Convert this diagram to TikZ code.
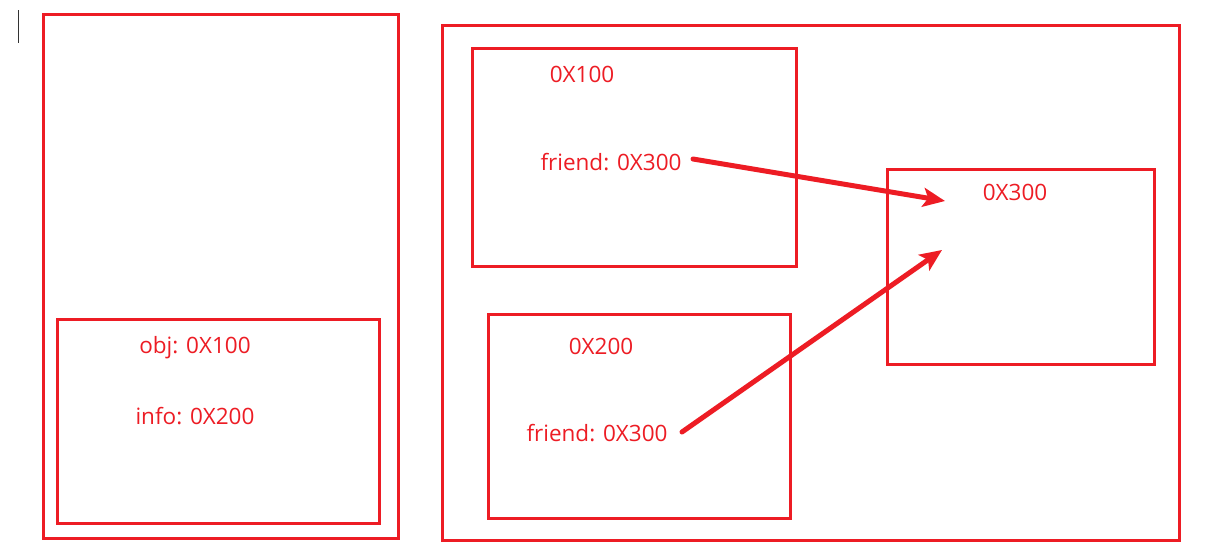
\documentclass[tikz,border=0pt]{standalone}
\usepackage{fontspec}
\setmainfont{Open Sans}
\usetikzlibrary{arrows.meta}
\definecolor{mred}{HTML}{ED1C24}
\begin{document}
\begin{tikzpicture}[x=1pt,y=-1pt,
  box/.style={draw=mred, line width=3pt, inner sep=0pt, minimum width=#1},
  lbl/.style={text=mred, font=\fontsize{22.5}{26}\selectfont, inner sep=0pt},
  ptr/.style={draw=mred, line width=5pt, line cap=round, -{Stealth[length=22pt,width=19pt,inset=5pt]}}
]
\useasboundingbox (0,0) rectangle (1216,554);
\fill[white] (0,0) rectangle (1216,554);
% cursor mark
\draw[black!80, line width=1pt] (18,10) -- (18,43);
% boxes
\node[box=355pt, minimum height=524pt] (stack) at (220.5,276) {};
\node[box=322pt, minimum height=204pt] (frame) at (218,421) {};
\node[box=737pt, minimum height=515pt] (heap) at (810.5,282.5) {};
\node[box=324pt, minimum height=218pt] (o100) at (634,157) {};
\node[box=302pt, minimum height=204pt] (o200) at (639,416) {};
\node[box=267pt, minimum height=195pt] (o300) at (1020.5,266.5) {};
% labels
\node[lbl] (t100) at (582,74) {0X100};
\node[lbl] (f1) at (611,162) {friend: 0X300};
\node[lbl] (t300) at (1015,192) {0X300};
\node[lbl] (t200) at (601,346) {0X200};
\node[lbl] (f2) at (597,433) {friend: 0X300};
\node[lbl] (obj) at (195,348) {obj: 0X100};
\node[lbl] (info) at (195,416) {info: 0X200};
% pointers
\coordinate (a1s) at (693,159);
\coordinate (a1e) at (945,201);
\coordinate (a2s) at (682,432);
\coordinate (a2e) at (942,250);
\draw[ptr] (a1s) -- (a1e);
\draw[ptr] (a2s) -- (a2e);
\end{tikzpicture}
\end{document}
